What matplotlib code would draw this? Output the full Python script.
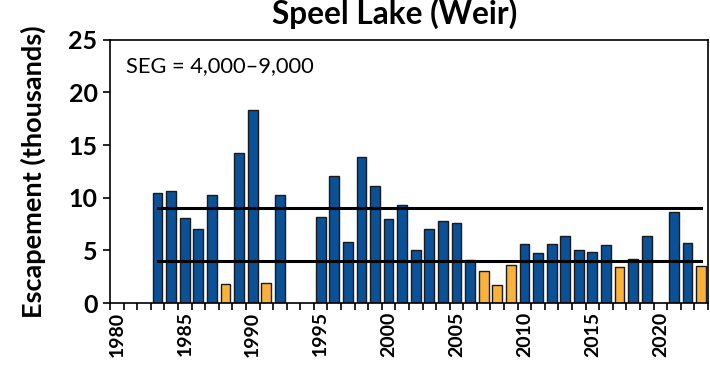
import matplotlib.pyplot as plt
import numpy as np

plt.rcParams['font.family'] = ['Lato', 'DejaVu Sans']

years = list(range(1980, 2024))
# escapement in thousands of fish; None = no count that year
escapement = [
    None, None, None, 10.46, 10.65, 8.12, 7.0, 10.24, 1.78, 14.2,
    18.3, 1.87, 10.27, None, None, 8.18, 12.07, 5.83, 13.85, 11.09,
    7.99, 9.35, 5.04, 7.0, 7.8, 7.58, 4.12, 3.08, 1.75, 3.65,
    5.65, 4.79, 5.65, 6.4, 5.04, 4.88, 5.55, 3.39, 4.22, 6.4,
    None, 8.62, 5.7, 3.52,
]
seg_low, seg_high = 4.0, 9.0
seg_years = (1983, 2023)

blue = '#0a5197'
orange = '#fbb23a'

fig = plt.figure(figsize=(7.1, 3.71), dpi=100)
ax = fig.add_axes([0.155, 0.183, 0.842, 0.71])

x = [y for y, v in zip(years, escapement) if v is not None]
h = [v for v in escapement if v is not None]
colors = [orange if v < seg_low else blue for v in h]
ax.bar(x, h, width=0.72, color=colors, edgecolor='#1a1a1a', linewidth=1.0, zorder=2)

for level in (seg_low, seg_high):
    ax.plot(seg_years, [level, level], color='black', linewidth=2.2, zorder=3)

ax.set_xlim(years[0] - 0.5, years[-1] + 0.5)
ax.set_ylim(0, 25)
ax.set_yticks(np.arange(0, 26, 5))
ax.set_xticks(range(1980, 2021, 5))
ax.set_xticks(np.arange(years[0] - 0.5, years[-1] + 1, 1), minor=True)
ax.tick_params(axis='x', which='major', length=0, pad=6, labelsize=14, rotation=90)
ax.tick_params(axis='x', which='minor', length=5, width=1.2, direction='out')
ax.tick_params(axis='y', length=5, width=1.2, labelsize=18, pad=4)
for lbl in ax.get_xticklabels() + ax.get_yticklabels():
    lbl.set_fontweight('bold')

for s in ax.spines.values():
    s.set_linewidth(1.2)

ax.set_ylabel('Escapement (thousands)', fontsize=19.5, fontweight='bold', labelpad=16)
fig.text(0.556, 0.935, 'Speel Lake (Weir)', fontsize=22.8, fontweight='bold',
         ha='center', va='baseline')
ax.text(0.027, 0.90, 'SEG = 4,000–9,000', transform=ax.transAxes,
        fontsize=15.75, va='center', ha='left')

fig.savefig('out.png', dpi=100)
